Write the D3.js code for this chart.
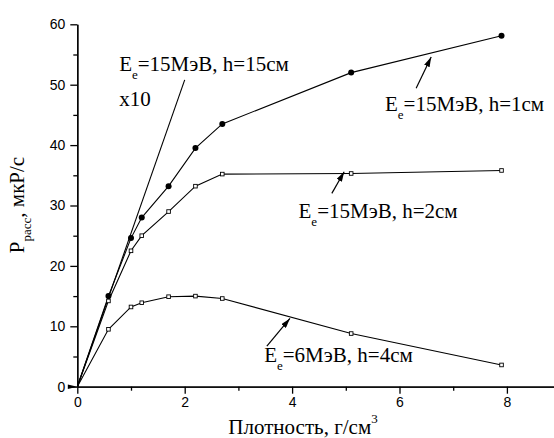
<!DOCTYPE html>
<html>
<head>
<meta charset="utf-8">
<script src="https://cdn.jsdelivr.net/npm/d3@7"></script>
<style>
	body { margin: 0; background: #fff; }
	svg { display: block; }
</style>
</head>
<body>
<div id="chart"></div>
<script>
var w = 554; var h = 438;

// плотность, г/см3
var density = [0, 0.58, 1.0, 1.2, 1.7, 2.2, 2.7, 5.1, 7.9];
// Ee=15MeV, h=1cm
var dose15h1 = [0, 15.0, 24.6, 28.0, 33.2, 39.5, 43.5, 52.0, 58.1];
// Ee=15MeV, h=2cm
var dose15h2 = [0, 14.2, 22.5, 25.0, 29.0, 33.2, 35.2, 35.3, 35.8];
// Ee=6MeV, h=4cm
var dose6h4 = [0, 9.5, 13.2, 13.9, 14.9, 15.0, 14.6, 8.8, 3.6];
// Ee=15MeV, h=15cm (x10), only a straight line
var density15 = [0, 2.0];
var dose15h15 = [0, 50.8];

var xMajor = [0, 2, 4, 6, 8];
var xMinor = [1, 3, 5, 7, 9];
var yMajor = [0, 10, 20, 30, 40, 50, 60];
var yMinor = [5, 15, 25, 35, 45, 55];

var svg = d3.select('#chart')
			.append('svg')
			.attr('width', w)
			.attr('height', h);

var x = d3.scaleLinear().domain([0, 9]).range([77.3, 560.6]);
var y = d3.scaleLinear().domain([0, 60]).range([386.7, 24.3]);

function zip(xs, ys) {
	return xs.map(function(d, i) { return [d, ys[i]]; });
}

// axes
svg.append('g')
	.attr('transform', 'translate(0,' + y(0) + ')')
	.call(d3.axisBottom(x).tickValues(xMinor).tickSize(4).tickSizeOuter(0).tickFormat(''));
svg.append('g')
	.attr('class', 'xaxis')
	.attr('transform', 'translate(0,' + y(0) + ')')
	.call(d3.axisBottom(x).tickValues(xMajor).tickSize(7).tickSizeOuter(0).tickPadding(3));
svg.append('g')
	.attr('transform', 'translate(' + x(0) + ',0)')
	.call(d3.axisLeft(y).tickValues(yMinor).tickSize(4).tickSizeOuter(0).tickFormat(''));
svg.append('g')
	.attr('class', 'yaxis')
	.attr('transform', 'translate(' + x(0) + ',0)')
	.call(d3.axisLeft(y).tickValues(yMajor).tickSize(7).tickSizeOuter(0).tickPadding(5));

svg.selectAll('.domain, .tick line')
	.attr('stroke', '#000')
	.attr('stroke-width', 1.3);
svg.selectAll('.tick text')
	.attr('fill', '#000')
	.style('font-family', '"Liberation Sans", Arial, sans-serif')
	.style('font-size', '14px');

// little marker at the origin
svg.append('path')
	.attr('d', 'M' + (x(0) - 9.5) + ',' + (y(0) - 2.3) + 'L' + (x(0) - 9.5) + ',' + (y(0) + 2.3) + 'L' + x(0) + ',' + y(0) + 'Z')
	.attr('fill', '#000');

// curves
var line = d3.line()
			.x(function(d) { return x(d[0]); })
			.y(function(d) { return y(d[1]); });

[zip(density15, dose15h15), zip(density, dose15h1), zip(density, dose15h2), zip(density, dose6h4)]
	.forEach(function(pts) {
		svg.append('path')
			.attr('d', line(pts))
			.attr('fill', 'none')
			.attr('stroke', '#000')
			.attr('stroke-width', 1.1);
	});

svg.selectAll('circle.h1')
	.data(zip(density, dose15h1).slice(1))
	.enter()
	.append('circle')
	.attr('cx', function(d) { return x(d[0]); })
	.attr('cy', function(d) { return y(d[1]); })
	.attr('r', 3)
	.attr('fill', '#000');

[zip(density, dose15h2), zip(density, dose6h4)].forEach(function(pts) {
	svg.append('g').selectAll('rect')
		.data(pts.slice(1))
		.enter()
		.append('rect')
		.attr('x', function(d) { return x(d[0]) - 1.8; })
		.attr('y', function(d) { return y(d[1]) - 1.8; })
		.attr('width', 3.6)
		.attr('height', 3.6)
		.attr('fill', '#fff')
		.attr('stroke', '#000')
		.attr('stroke-width', 0.9);
});

// arrows
svg.append('defs').append('marker')
	.attr('id', 'head')
	.attr('viewBox', '0 0 10 6')
	.attr('refX', 10).attr('refY', 3)
	.attr('markerWidth', 10).attr('markerHeight', 6)
	.attr('markerUnits', 'userSpaceOnUse')
	.attr('orient', 'auto')
	.append('path')
	.attr('d', 'M0,0L10,3L0,6Z')
	.attr('fill', '#000');

var arrows = [
	[[6.31, 49.4], [6.59, 54.6]],
	[[4.74, 32.0], [4.97, 35.6]],
	[[3.53, 6.7], [3.96, 11.3]]
];
svg.selectAll('line.arrow')
	.data(arrows)
	.enter()
	.append('line')
	.attr('x1', function(d) { return x(d[0][0]); })
	.attr('y1', function(d) { return y(d[0][1]); })
	.attr('x2', function(d) { return x(d[1][0]); })
	.attr('y2', function(d) { return y(d[1][1]); })
	.attr('stroke', '#000')
	.attr('stroke-width', 1.2)
	.attr('marker-end', 'url(#head)');

// labels
var serif = '"Liberation Serif", "Times New Roman", serif';
var notes = [
	{pos: [0.78, 52.2], rest: '=15МэВ, h=15см'},
	{pos: [5.73, 45.7], rest: '=15МэВ, h=1см'},
	{pos: [4.12, 27.9], rest: '=15МэВ, h=2см'},
	{pos: [3.48, 4.1], rest: '=6МэВ, h=4см'}
];
notes.forEach(function(n) {
	var t = svg.append('text')
		.attr('x', x(n.pos[0]))
		.attr('y', y(n.pos[1]))
		.style('font-family', serif)
		.style('font-size', '21px');
	t.append('tspan').text('E');
	t.append('tspan').attr('dy', 8).style('font-size', '13px').text('e');
	t.append('tspan').attr('dy', -8).text(n.rest);
});
svg.append('text')
	.attr('x', x(0.78))
	.attr('y', y(46.5))
	.style('font-family', serif)
	.style('font-size', '21px')
	.text('x10');

var xt = svg.append('text')
	.attr('x', 303)
	.attr('y', 434)
	.attr('text-anchor', 'middle')
	.style('font-family', serif)
	.style('font-size', '21px');
xt.append('tspan').text('Плотность, г/см');
xt.append('tspan').attr('dy', -11).style('font-size', '13px').text('3');

var yt = svg.append('text')
	.attr('transform', 'translate(24,205) rotate(-90)')
	.attr('text-anchor', 'middle')
	.style('font-family', serif)
	.style('font-size', '21px');
yt.append('tspan').text('P');
yt.append('tspan').attr('dy', 7).style('font-size', '13px').text('расс');
yt.append('tspan').attr('dy', -7).text(', мкР/с');
</script>
</body>
</html>
